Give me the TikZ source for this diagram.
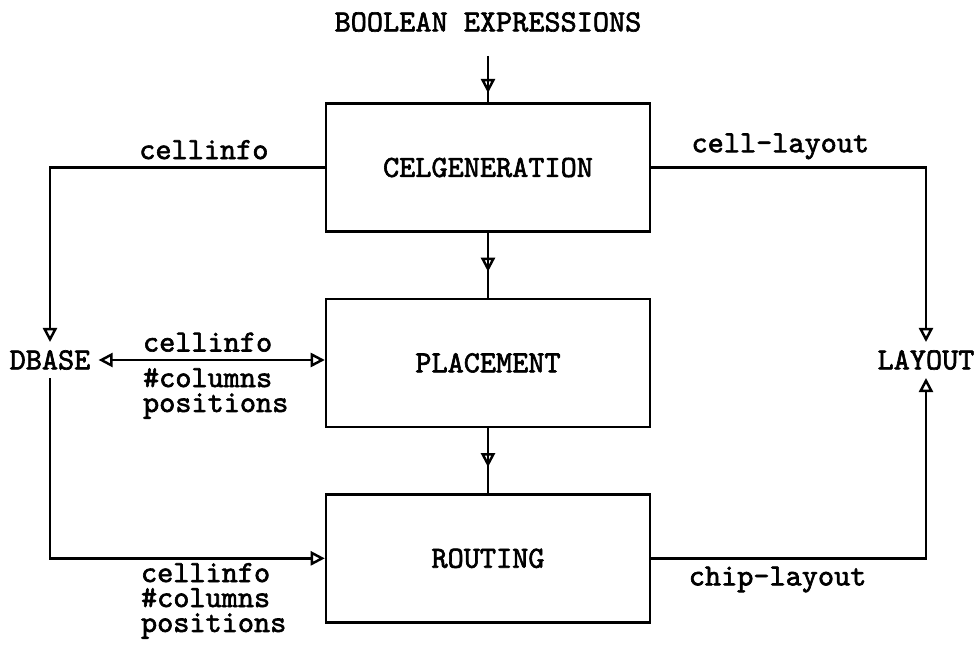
\documentclass[tikz,border=0pt]{standalone}
\usepackage{fontspec}
\newfontfamily\scanmono{lmmono10-regular.otf}[FakeBold=2]
\usetikzlibrary{arrows.meta,decorations.markings,positioning}
\newcommand{\diagfont}{\scanmono\fontsize{17.5}{14.2}\selectfont}
\tikzset{block/.style={draw, align=center, font=\diagfont, minimum width=6.48cm, minimum height=2.56cm}}
\tikzset{word/.style={font=\diagfont, align=left, inner sep=4pt}}
\tikzstyle{arrow} = [-{Triangle[open, length=8pt, width=8pt]}]
\tikzset{tipat/.style={postaction={decorate}, decoration={markings, mark=at position #1 with {\arrow{Triangle[open, length=8pt, width=8pt]}}}}}

\begin{document}
\begin{tikzpicture}[x=0.02cm, y=-0.02cm, line width=1.4pt, node distance=1.3cm]
	\useasboundingbox (0,0) rectangle (975,645);
	% Nodes
		\node (celgen) [block] at (488,167.5) {CELGENERATION};
		\node (placement) [block, below=of celgen] {PLACEMENT};
		\node (routing) [block, below=of placement] {ROUTING};

		\node (boolexpr) [word] at (488,22) {BOOLEAN EXPRESSIONS};
		\node (dbase) [word] at (50,360) {DBASE};
		\node (layout) [word] at (926,360) {LAYOUT};

		% Connectors
		\draw [tipat=0.8] ([yshift=-9pt]boolexpr.south) -- (celgen);
		\draw [tipat=0.6] (celgen) -- (placement);
		\draw [tipat=0.6] (placement) -- (routing);

		\draw [arrow] (celgen.west) -| node[word, pos=0.22, above]{cellinfo} (dbase.north);
		\draw [arrow] (celgen.east) -| node[word, pos=0.235, above]{cell-layout} (layout.north);
		\draw [{Triangle[open, length=8pt, width=8pt]}-{Triangle[open, length=8pt, width=8pt]}] (dbase.east) -- node[word, pos=0.16, anchor=south west]{cellinfo} node[word, pos=0.16, anchor=north west]{\#columns\\positions} (dbase.east -| placement.west);
		\draw [arrow] (dbase.south) |- node[word, pos=0.657, anchor=north west, inner sep=2pt]{cellinfo\\\#columns\\positions} (routing.west);
		\draw [arrow] (routing.east) -| node[word, pos=0.23, below]{chip-layout} (layout.south);
\end{tikzpicture}
\end{document}
